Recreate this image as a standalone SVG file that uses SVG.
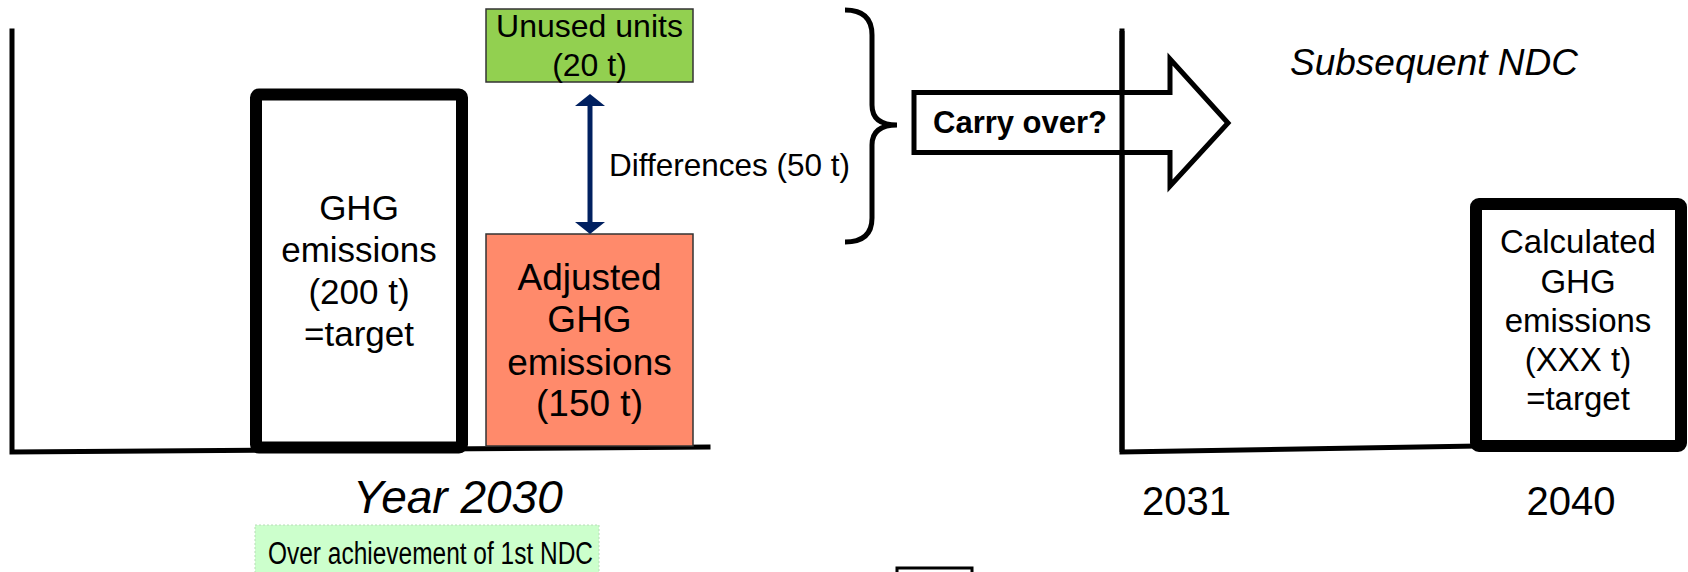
<svg xmlns="http://www.w3.org/2000/svg" width="1688" height="572" viewBox="0 0 1688 572">
<style>
text{font-family:"Liberation Sans",Arial,sans-serif;fill:#000}
.axis{fill:none;stroke:#000;stroke-width:5;stroke-linecap:square}
.thick{fill:#fff;stroke:#000;stroke-width:12;stroke-linejoin:round}
.c{text-anchor:middle}
</style>
<rect width="1688" height="572" fill="#fff"/>
<g id="axes">
<polyline class="axis" points="12,31 12,452 708,447"/>
<polyline class="axis" points="1122,31 1122,452 1476,446"/>
</g>
<g id="ghg2030">
<rect class="thick" x="256" y="94.5" width="206" height="353" rx="3"/>
<text class="c" x="359" y="220" font-size="35">GHG</text>
<text class="c" x="359" y="262" font-size="35">emissions</text>
<text class="c" x="359" y="304" font-size="35">(200 t)</text>
<text class="c" x="359" y="346" font-size="35">=target</text>
</g>
<g id="unused">
<rect x="486" y="9" width="207" height="73" fill="#92D050" stroke="#333" stroke-width="1.5"/>
<text class="c" x="589.5" y="37" font-size="32">Unused units</text>
<text class="c" x="589.5" y="76" font-size="32">(20 t)</text>
</g>
<g id="adjusted">
<rect x="486" y="234" width="207" height="212" fill="#FF8A6B" stroke="#333" stroke-width="1.5"/>
<text class="c" x="589.5" y="290" font-size="37">Adjusted</text>
<text class="c" x="589.5" y="332" font-size="37">GHG</text>
<text class="c" x="589.5" y="375" font-size="37">emissions</text>
<text class="c" x="589.5" y="416" font-size="37">(150 t)</text>
</g>
<g id="connectors">
<line x1="590" y1="104" x2="590" y2="224" stroke="#002060" stroke-width="5"/>
<polygon points="590,94 605,106 575,106" fill="#002060"/>
<polygon points="590,234 605,222 575,222" fill="#002060"/>
<path d="M845,10 Q872,10 872,35 L872,105 Q872,125 897,125 Q872,125 872,145 L872,218 Q872,242 845,242" fill="none" stroke="#000" stroke-width="5"/>
</g>
<text x="609" y="176" font-size="31.5">Differences (50 t)</text>
<g id="carryover">
<polygon points="914,92.5 1170,92.5 1170,59 1228,123 1170,186 1170,152.5 914,152.5" fill="#fff" stroke="#000" stroke-width="5"/>
<text x="933" y="133" font-size="31" font-weight="bold">Carry over?</text>
</g>
<line x1="1122" y1="31" x2="1122" y2="452" stroke="#000" stroke-width="5"/>
<text x="1290" y="75" font-size="37" font-style="italic">Subsequent NDC</text>
<g id="calc2040">
<rect class="thick" x="1476" y="204" width="205" height="242" rx="3"/>
<text class="c" x="1578" y="253" font-size="33">Calculated</text>
<text class="c" x="1578" y="293" font-size="33">GHG</text>
<text class="c" x="1578" y="332" font-size="33">emissions</text>
<text class="c" x="1578" y="371" font-size="33">(XXX t)</text>
<text class="c" x="1578" y="410" font-size="33">=target</text>
</g>
<text x="353" y="513" font-size="46" font-style="italic">Year 2030</text>
<text x="1142" y="515" font-size="40">2031</text>
<text class="c" x="1571" y="515" font-size="40">2040</text>
<g id="label">
<rect x="255" y="525" width="344" height="52" fill="#CCFFCC" stroke="#b8dcb8" stroke-width="1" stroke-dasharray="2,2"/>
<text x="268" y="564" font-size="31" textLength="325" lengthAdjust="spacingAndGlyphs">Over achievement of 1st NDC</text>
</g>
<rect id="smallbox" x="897" y="568" width="75" height="12" fill="none" stroke="#000" stroke-width="3"/>
</svg>
